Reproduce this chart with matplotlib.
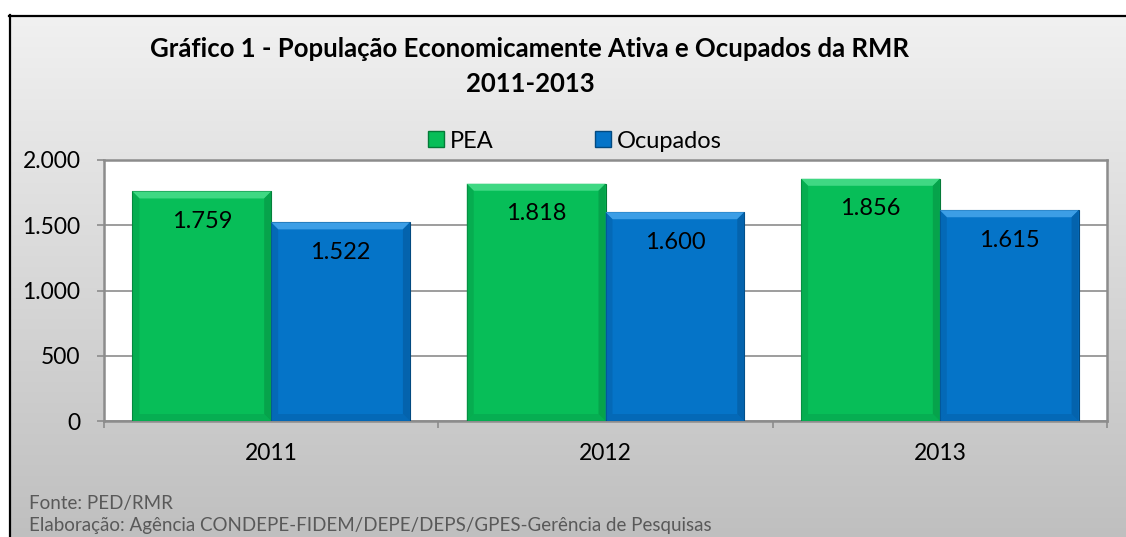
import matplotlib
matplotlib.use("Agg")
import matplotlib.pyplot as plt
import numpy as np
from matplotlib.patches import Patch, Polygon

plt.rcParams['font.family'] = ['Lato', 'DejaVu Sans']

categories = ['2011', '2012', '2013']
pea = [1759, 1818, 1856]
ocupados = [1522, 1600, 1615]
series_names = ['PEA', 'Ocupados']
yticks = [0, 500, 1000, 1500, 2000]
ytick_labels = ['0', '500', '1.000', '1.500', '2.000']
title1 = 'Gráfico 1 - População Economicamente Ativa e Ocupados da RMR'
title2 = '2011-2013'
foot1 = 'Fonte: PED/RMR'
foot2 = 'Elaboração: Agência CONDEPE-FIDEM/DEPE/DEPS/GPES-Gerência de Pesquisas'

W, H = 1126, 537
fig = plt.figure(figsize=(W / 100, H / 100), dpi=100)
fig.patch.set_facecolor('white')

# background gradient panel
bg = fig.add_axes([0, 0, 1, 1])
bg.set_xlim(0, W)
bg.set_ylim(H, 0)
bg.axis('off')
grad = np.linspace(0, 1, 256).reshape(-1, 1)
top = np.array([0.945, 0.945, 0.945])
bot = np.array([0.75, 0.75, 0.75])
img = top + (bot - top) * grad[..., None]
img = np.repeat(img, 2, axis=1)
bg.imshow(img, extent=[9, W, H, 15], aspect='auto', zorder=0)
bg.plot([9.5, 9.5], [15, H], color='black', lw=1.6, zorder=2)
bg.plot([9, W], [15.5, 15.5], color='black', lw=1.6, zorder=2)

bg.text(530, 49, title1, ha='center', va='center', fontsize=18.5,
        fontweight='bold', color='black')
bg.text(530, 84, title2, ha='center', va='center', fontsize=18.5,
        fontweight='bold', color='black')
bg.text(29, 504, foot1, ha='left', va='center', fontsize=13.5, color='#595959')
bg.text(29, 525, foot2, ha='left', va='center', fontsize=13.5, color='#595959')

# main axes
L, R, T, B = 104, 1107, 160, 421
ax = fig.add_axes([L / W, 1 - B / H, (R - L) / W, (B - T) / H])
ax.set_facecolor('white')
x = np.arange(len(categories))
w = 0.415
green = '#07BE58'
blue = '#0574C8'
b1 = ax.bar(x - w / 2, pea, w, color=green, edgecolor='#047a38', linewidth=0.8, zorder=3)
b2 = ax.bar(x + w / 2, ocupados, w, color=blue, edgecolor='#034a80', linewidth=0.8, zorder=3)

ax.set_xlim(-0.5, len(categories) - 0.5)
ax.set_ylim(0, 2000)

# bevel effect (pixel-size styling converted to data units)
px_x = 3.0 / (R - L)
px_y = 2000.0 / (B - T)
bev = 7
dx, dy = bev * px_x, bev * px_y
bevel_cols = {green: ('#3fd883', '#06a34b', '#05984a'), blue: ('#3c9ee6', '#0463ad', '#045a9e')}
for bars, col in ((b1, green), (b2, blue)):
    topc, sidec, botc = bevel_cols[col]
    for r in bars:
        x0, x1 = r.get_x(), r.get_x() + r.get_width()
        h = r.get_height()
        ax.add_patch(Polygon([[x0, h], [x1, h], [x1 - dx, h - dy], [x0 + dx, h - dy]],
                             closed=True, facecolor=topc, edgecolor='none', zorder=4))
        ax.add_patch(Polygon([[x1, h], [x1, 0], [x1 - dx, dy], [x1 - dx, h - dy]],
                             closed=True, facecolor=sidec, edgecolor='none', zorder=4))
        ax.add_patch(Polygon([[x0, h], [x0, 0], [x0 + dx, dy], [x0 + dx, h - dy]],
                             closed=True, facecolor=sidec, edgecolor='none', alpha=0.6, zorder=4))
        ax.add_patch(Polygon([[x0, 0], [x1, 0], [x1 - dx, dy], [x0 + dx, dy]],
                             closed=True, facecolor=botc, edgecolor='none', alpha=0.4, zorder=4))

for bars, vals in ((b1, pea), (b2, ocupados)):
    for r, v in zip(bars, vals):
        ax.annotate(f'{v/1000:.3f}', (r.get_x() + r.get_width() / 2, v),
                    xytext=(0, -30), textcoords='offset pixels',
                    ha='center', va='center', fontsize=17, color='black', zorder=5)

ax.set_yticks(yticks)
ax.set_yticklabels(ytick_labels, fontsize=16.5)
ax.yaxis.grid(True, color='#8c8c8c', lw=1.2, zorder=0)
ax.set_axisbelow(True)
ax.set_xticks([-0.5, 0.5, 1.5, 2.5])
ax.set_xticklabels([])
ax.set_xticks(x, minor=True)
ax.set_xticklabels(categories, minor=True, fontsize=16.5)
ax.tick_params(axis='x', which='minor', length=0, pad=16)
ax.tick_params(axis='x', which='major', length=5, color='#8c8c8c', width=1.2)
ax.tick_params(axis='y', length=5, color='#8c8c8c', width=1.2, pad=12)
for s in ax.spines.values():
    s.set_color('#8c8c8c')
    s.set_linewidth(1.8)

handles = [Patch(facecolor=green, edgecolor='#047a38'), Patch(facecolor=blue, edgecolor='#034a80')]
leg = fig.legend(handles, series_names, loc='center', bbox_to_anchor=(575 / W, 1 - 141 / H),
                 ncol=2, frameon=False, fontsize=17, handlelength=0.67, handleheight=0.67,
                 handletextpad=0.25, columnspacing=4.3, borderaxespad=0, borderpad=0)

fig.savefig('out.png', dpi=100)
